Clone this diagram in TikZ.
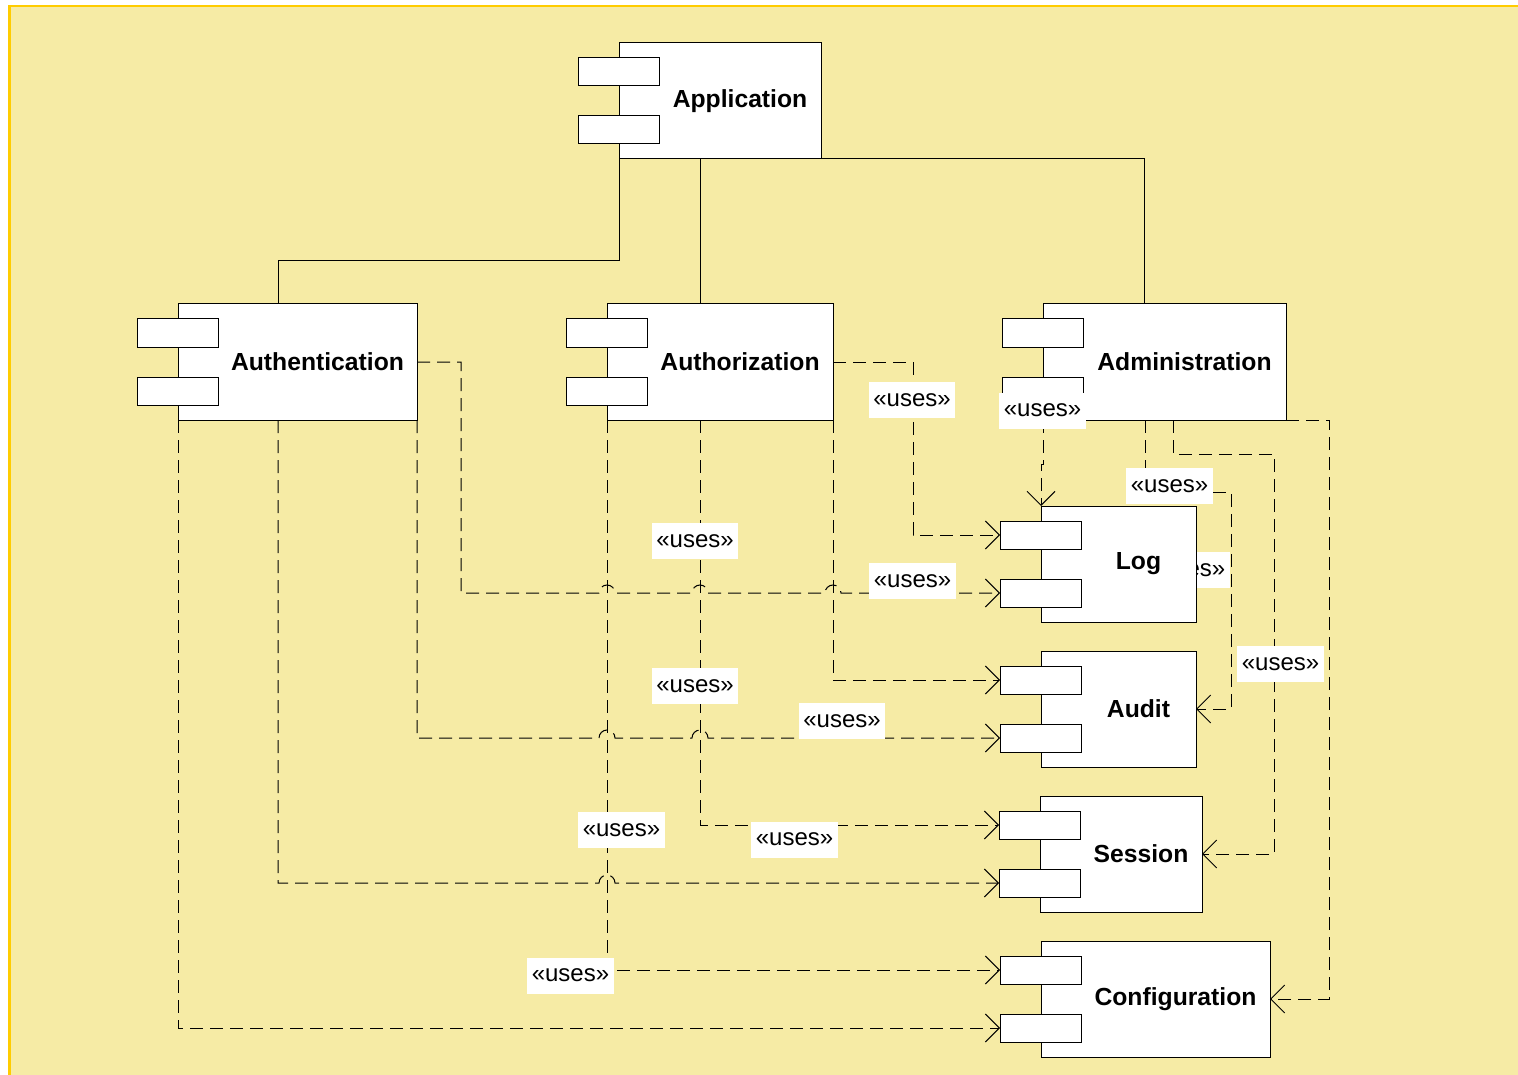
\documentclass[tikz,border=0pt]{standalone}
\usepackage{fontspec}
\setmainfont{Liberation Sans}
\usetikzlibrary{arrows.meta,calc}
\definecolor{bgyellow}{RGB}{246,235,165}
\definecolor{bordergold}{RGB}{255,204,0}
\pgfdeclarelayer{labels}
\pgfdeclarelayer{front}
\pgfsetlayers{main,labels,front}
\tikzset{
  cbox/.style={draw=black, fill=white, line width=1pt, inner sep=0pt, outer sep=0pt, minimum height=116pt},
  ctab/.style={draw=black, fill=white, line width=1pt, inner sep=0pt, outer sep=0pt, minimum width=81pt, minimum height=28pt},
  clabel/.style={font=\fontsize{24.7}{28}\selectfont\bfseries, inner sep=0pt},
  uselabel/.style={fill=white, font=\fontsize{24}{28}\selectfont, inner xsep=4.5pt, inner ysep=0pt, minimum height=36pt},
  solidc/.style={draw=black, line width=1pt},
  uses/.style={draw=black, line width=1pt, dash pattern=on 13pt off 7pt, -{Straight Barb[length=14pt,width=28pt]}}
}
\newcommand\umlcomp[5]{%
  \node[cbox, minimum width=#4pt, anchor=north west] (#1) at (#2,#3) {};
  \node[ctab, anchor=north west] (#1A) at ($(#1.north west)+(-41,15)$) {};
  \node[ctab, anchor=north west] (#1B) at ($(#1.north west)+(-41,73)$) {};
  \node[clabel] (#1L) at ($(#1.center)+(20,0)$) {#5};
}
\begin{document}
\begin{tikzpicture}[x=1pt,y=-1pt]
\useasboundingbox (0,0) rectangle (1518,1075);
\clip (0,0) rectangle (1518,1075);
\fill[bgyellow] (9.3,6) rectangle (1560,1100);
\draw[bordergold, line width=2.6pt] (9.3,1100) |- (1560,6);

% components
\umlcomp{app}{619}{43}{202}{Application}
\umlcomp{authn}{178}{304}{239}{Authentication}
\umlcomp{authz}{607}{304}{226}{Authorization}
\umlcomp{admin}{1043}{304}{243}{Administration}
\umlcomp{audit}{1041}{651}{155}{Audit}
\umlcomp{session}{1040}{796}{162}{Session}
\umlcomp{config}{1041}{941}{229}{Configuration}
\begin{pgfonlayer}{front}
\umlcomp{log}{1041}{506}{155}{Log}
\end{pgfonlayer}

% containment lines
\draw[solidc] (app.south west) |- (278,261) -- (278,0 |- authn.north);
\draw[solidc] (700,0 |- app.south) -- (700,0 |- authz.north);
\draw[solidc] (app.south east) -| (1144,0 |- admin.north);

% uses dependencies
\draw[uses] (authn.east) -| (461,593) -- (599,593) arc[start angle=180,end angle=0,radius=8pt]
  -- (692,593) arc[start angle=180,end angle=0,radius=8pt]
  -- (825,593) arc[start angle=180,end angle=0,radius=8pt] -- (logB.west);
\draw[uses] (authn.south east) |- (599,738) arc[start angle=180,end angle=0,radius=8pt]
  -- (692,738) arc[start angle=180,end angle=0,radius=8pt] -- (auditB.west);
\draw[uses] (278,0 |- authn.south) |- (599,883) arc[start angle=180,end angle=0,radius=8pt] -- (sessionB.west);
\draw[uses] (authn.south west) |- (configB.west);
\draw[uses] (authz.east) -| (913,0 |- logA.west) -- (logA.west);
\draw[uses] (authz.south east) |- (auditA.west);
\draw[uses] (700,0 |- authz.south) |- (sessionA.west);
\draw[uses] (authz.south west) |- (configA.west);
\draw[uses] (admin.south west) -- ++(0,44) -| (log.north west);
\draw[uses] (1145,0 |- admin.south) |- (1231,492) |- (audit.east);
\draw[uses] (1173,0 |- admin.south) |- (1274,454) |- (session.east);
\draw[uses] (admin.south east) -| (1329,0 |- config.east) -- (config.east);

% labels
\begin{pgfonlayer}{labels}
\node[uselabel] (u1) at (912,400) {«uses»};
\node[uselabel] (u2) at (1042.5,410.5) {«uses»};
\node[uselabel] (u3) at (1169.5,486) {«uses»};
\node[uselabel] (u4) at (695,541) {«uses»};
\node[uselabel] (u5) at (912.5,581) {«uses»};
\node[uselabel] (u6) at (1186.5,570) {«uses»};
\node[uselabel] (u7) at (1280.5,664) {«uses»};
\node[uselabel] (u8) at (695,686) {«uses»};
\node[uselabel] (u9) at (842,721) {«uses»};
\node[uselabel] (u10) at (621.5,830) {«uses»};
\node[uselabel] (u11) at (794.5,839.5) {«uses»};
\node[uselabel] (u12) at (570.5,975.5) {«uses»};
\end{pgfonlayer}
\end{tikzpicture}
\end{document}
